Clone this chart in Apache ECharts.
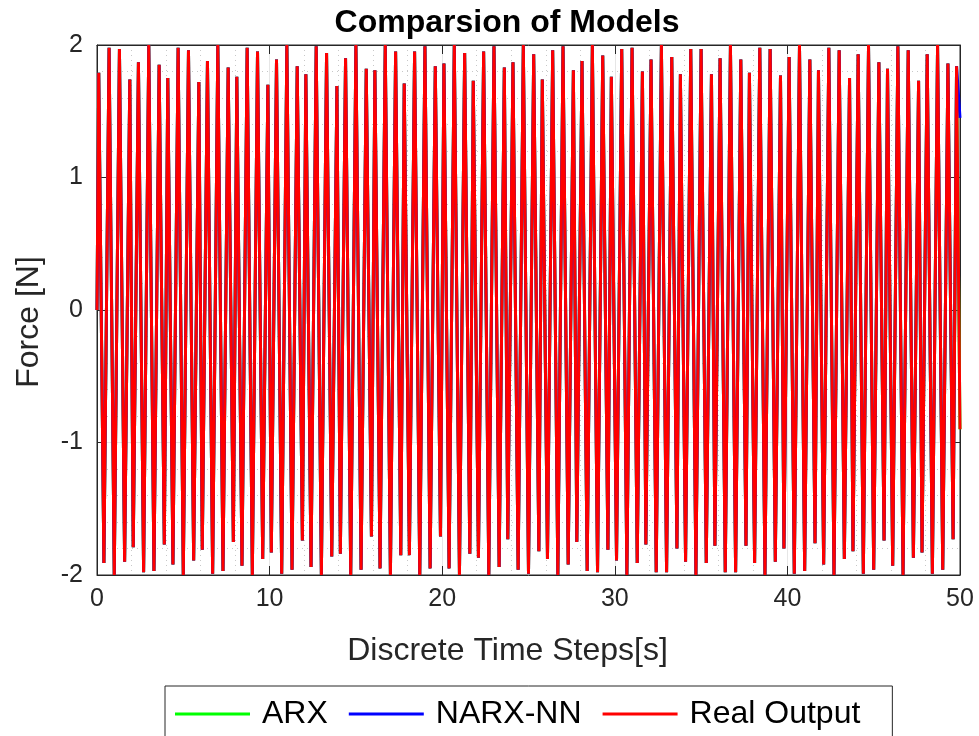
<!DOCTYPE html>
<html><head><meta charset="utf-8">
<script src="https://cdn.jsdelivr.net/npm/echarts@6/dist/echarts.min.js"></script>
<style>html,body{margin:0;padding:0;background:#fff}#c{width:979px;height:736px}</style>
</head><body><div id="c"></div>
<script>
const titleText = 'Comparsion of Models';
const xName = 'Discrete Time Steps[s]';
const yName = 'Force [N]';
const seriesNames = ['ARX', 'NARX-NN', 'Real Output'];
const xTicks = [0, 10, 20, 30, 40, 50];
const yTicks = [-2, -1, 0, 1, 2];

const startPoint = [0, 0];
const peakT = [0.1,0.7,1.3,1.9,2.4,3.0,3.6,4.1,4.7,5.3,5.9,6.4,7.0,7.6,8.1,8.7,9.3,9.9,10.4,11.0,11.6,12.1,12.7,13.3,13.9,14.4,15.0,15.6,16.1,
  16.7,17.3,17.8,18.4,19.0,19.6,20.1,20.7,21.3,21.8,22.4,23.0,23.6,24.1,24.7,25.3,25.8,26.4,27.0,27.6,28.1,28.7,29.3,29.8,30.4,31.0,31.6,32.1,32.7,
  33.3,33.8,34.4,35.0,35.6,36.1,36.7,37.3,37.8,38.4,39.0,39.6,40.1,40.7,41.3,41.8,42.4,43.0,43.6,44.1,44.7,45.3,45.8,46.4,47.0,47.6,48.1,48.7,49.3,49.8];
const peakV = [1.79,1.98,1.97,1.74,1.87,2.0,1.85,1.75,1.98,1.96,1.72,1.88,2.0,1.83,1.76,1.98,1.95,1.70,1.89,2.0,1.84,1.78,1.99,1.94,1.69,1.90,2.0,1.82,1.81,
  2.0,1.95,1.71,1.95,1.99,1.84,1.86,2.0,1.94,1.73,1.95,1.99,1.83,1.87,2.0,1.93,1.74,1.96,1.99,1.81,1.88,2.0,1.92,1.76,1.97,1.98,1.80,1.89,2.0,
  1.91,1.78,1.97,1.97,1.78,1.90,2.0,1.89,1.79,1.98,1.97,1.77,1.91,2.0,1.89,1.81,1.98,1.96,1.75,1.93,2.0,1.87,1.82,1.99,1.96,1.73,1.93,2.0,1.86,1.84];
const troughT = [0.4,1.0,1.6,2.1,2.7,3.3,3.9,4.4,5.0,5.6,6.1,6.7,7.3,7.9,8.4,9.0,9.6,10.1,10.7,11.3,11.9,12.4,13.0,13.6,14.1,14.7,15.3,15.9,16.4,
  17.0,17.6,18.1,18.7,19.3,19.9,20.4,21.0,21.6,22.1,22.7,23.3,23.8,24.4,25.0,25.6,26.1,26.7,27.3,27.8,28.4,29.0,29.6,30.1,30.7,31.3,31.8,32.4,33.0,
  33.6,34.1,34.7,35.3,35.8,36.4,37.0,37.6,38.1,38.7,39.3,39.8,40.4,41.0,41.6,42.1,42.7,43.3,43.8,44.4,45.0,45.6,46.1,46.7,47.3,47.8,48.4,49.0,49.6];
const troughV = [-1.91,-2.0,-1.90,-1.79,-1.98,-1.97,-1.77,-1.92,-2.0,-1.89,-1.81,-1.99,-1.97,-1.75,-1.93,-2.0,-1.88,-1.83,-1.99,-1.96,-1.74,-1.94,-2.0,-1.86,-1.84,-2.0,-1.96,-1.71,-1.95,
  -2.0,-1.85,-1.85,-2.0,-1.95,-1.71,-1.95,-2.0,-1.84,-1.87,-2.0,-1.94,-1.73,-1.96,-1.99,-1.82,-1.88,-2.0,-1.92,-1.75,-1.97,-1.98,-1.81,-1.89,-2.0,-1.91,-1.77,-1.98,-1.98,
  -1.80,-1.90,-2.0,-1.91,-1.78,-1.98,-1.98,-1.78,-1.91,-2.0,-1.90,-1.80,-1.99,-1.97,-1.76,-1.92,-2.0,-1.88,-1.82,-1.99,-1.96,-1.74,-1.93,-2.0,-1.87,-1.83,-1.99,-1.96,-1.73];
const realEnd = [50, -0.9];
const narxEnd = [50, 1.45];
const arxEnd = [50, -0.9];

function build(endPt) {
  const pts = [startPoint];
  peakT.forEach((t, i) => pts.push([t, peakV[i]]));
  troughT.forEach((t, i) => pts.push([t, troughV[i]]));
  pts.sort((a, b) => a[0] - b[0]);
  pts.push(endPt);
  return pts;
}
const arxData = build(arxEnd);
const narxData = build(narxEnd);
const realData = build(realEnd);

const FONT = '"Liberation Sans", Arial, Helvetica, sans-serif';
const chart = echarts.init(document.getElementById('c'), null, {renderer: 'canvas'});
const axisCommon = {
  axisLine: {show: true, onZero: false, lineStyle: {color: '#262626', width: 1}},
  axisTick: {show: true, inside: true, length: 9, lineStyle: {color: '#262626'}},
};
chart.setOption({
  animation: false,
  backgroundColor: '#ffffff',
  title: {text: titleText, left: 502, top: 2, textAlign: 'center',
    textStyle: {fontFamily: FONT, fontSize: 32, fontWeight: 'bold', color: '#000'}},
  grid: {left: 97, right: 19, top: 45, bottom: 161, show: true, borderColor: '#262626', borderWidth: 1, backgroundColor: '#fff'},
  legend: {
    data: seriesNames, left: 165, top: 686, orient: 'horizontal',
    icon: 'rect', itemWidth: 75, itemHeight: 3, itemGap: 21,
    padding: [12, 32, 22, 10],
    borderColor: '#262626', borderWidth: 1, backgroundColor: '#fff',
    textStyle: {fontFamily: FONT, fontSize: 32, color: '#000', padding: [0, 0, 0, 7]},
  },
  xAxis: [{
    type: 'value', min: xTicks[0], max: xTicks[xTicks.length - 1], interval: 10,
    name: xName, nameLocation: 'middle', nameGap: 60,
    nameTextStyle: {fontFamily: FONT, fontSize: 32, color: '#262626', padding: [0, 42, 0, 0]},
    axisLabel: {fontFamily: FONT, fontSize: 25, color: '#262626', margin: 12},
    ...axisCommon,
    splitLine: {show: true, lineStyle: {color: '#e6e6e6', width: 1}},
    minorSplitLine: {show: true, lineStyle: {color: '#c8c8c8', type: [1, 4], width: 1}},
    minorTick: {show: false, splitNumber: 5},
  }, {
    type: 'value', position: 'top', min: xTicks[0], max: xTicks[xTicks.length - 1], interval: 10,
    axisLabel: {show: false}, ...axisCommon, splitLine: {show: false},
  }],
  yAxis: [{
    type: 'value', min: yTicks[0], max: yTicks[yTicks.length - 1], interval: 1,
    name: yName, nameLocation: 'middle', nameGap: 52, nameRotate: 90,
    nameTextStyle: {fontFamily: FONT, fontSize: 32, color: '#262626', padding: [0, 24, 0, 0]},
    axisLabel: {fontFamily: FONT, fontSize: 25, color: '#262626', margin: 14},
    ...axisCommon,
    splitLine: {show: true, lineStyle: {color: '#e6e6e6', width: 1}},
    minorSplitLine: {show: true, lineStyle: {color: '#c8c8c8', type: [1, 4], width: 1}},
    minorTick: {show: false, splitNumber: 5},
  }, {
    type: 'value', position: 'right', min: yTicks[0], max: yTicks[yTicks.length - 1], interval: 1,
    axisLabel: {show: false}, ...axisCommon, splitLine: {show: false},
  }],
  series: [
    {name: seriesNames[0], type: 'line', data: arxData, symbol: 'none', lineStyle: {color: '#00ff00', width: 3}, itemStyle: {color: '#00ff00'}},
    {name: seriesNames[1], type: 'line', data: narxData, symbol: 'none', lineStyle: {color: '#0000ff', width: 3}, itemStyle: {color: '#0000ff'}},
    {name: seriesNames[2], type: 'line', data: realData, symbol: 'none', lineStyle: {color: '#ff0000', width: 3}, itemStyle: {color: '#ff0000'}},
  ],
});
</script></body></html>
